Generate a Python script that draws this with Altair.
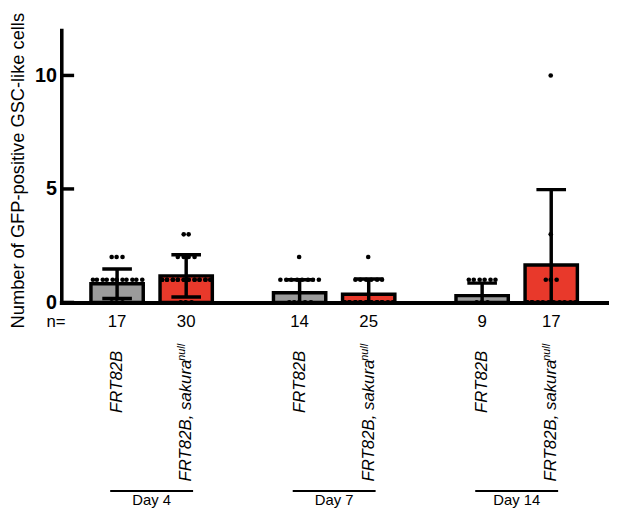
import altair as alt
import pandas as pd

# ---------------- data ----------------
days = ["Day 4", "Day 7", "Day 14"]
genotypes = ["FRT82B", "FRT82B, sakura"]
superscript = "null"

bar_day = ["Day 4", "Day 4", "Day 7", "Day 7", "Day 14", "Day 14"]
bar_geno = ["FRT82B", "FRT82B, sakura"] * 3
bar_mean = [0.82, 1.17, 0.43, 0.36, 0.30, 1.65]
bar_err = [0.65, 0.93, 0.57, 0.67, 0.55, 3.32]
n_values = [17, 30, 14, 25, 9, 17]

# individual points: levels and how many animals sit at each level
dot_levels = [[2, 1, 0], [3, 2, 1, 0], [2, 1, 0], [2, 1, 0], [1, 0], [10, 3, 1, 0]]
dot_counts = [[3, 11, 3], [2, 4, 21, 3], [1, 8, 5], [1, 6, 18], [6, 3], [1, 1, 3, 12]]

y_ticks = [0, 5, 10]
y_title = "Number of GFP-positive GSC-like cells"

# ---------------- tables ----------------
bars = pd.DataFrame({"day": bar_day, "geno": bar_geno, "mean": bar_mean,
                     "err": bar_err, "n": n_values})
bars["lo"] = bars["mean"] - bars["err"]
bars["hi"] = bars["mean"] + bars["err"]

# beeswarm-like horizontal spreading of the dots (layout only)
BAND = 140
MAX_PER_ROW = 10
SPACING = 5.5
centers = {genotypes[0]: 35, genotypes[1]: 105}
rows = []
for i in range(len(bar_day)):
    for lev, cnt in zip(dot_levels[i], dot_counts[i]):
        width_n = min(cnt, MAX_PER_ROW) if cnt <= 11 else MAX_PER_ROW
        if cnt == 11:
            width_n = 11
        for k in range(cnt):
            pos = k % width_n
            off = (pos - (width_n - 1) / 2) * (SPACING if width_n <= 10 else 5.0)
            slot = int(round(centers[bar_geno[i]] - 0.5 + off))
            rows.append({"day": bar_day[i], "slot": slot, "value": lev})
dots = pd.DataFrame(rows)

ticks_df = pd.DataFrame({"t": y_ticks})
days_df = pd.DataFrame({"day": days})
grey_df = bars[bars["geno"] == genotypes[0]].copy()
red_df = bars[bars["geno"] == genotypes[1]].copy()
red_df["sup"] = superscript

FONT = "Liberation Sans"

xscale = alt.Scale(domain=days, paddingInner=0.243, paddingOuter=0.1165)
xaxis = alt.Axis(labels=False, ticks=False, title=None, domain=True,
                 domainColor="black", domainWidth=4, domainCap="square",
                 grid=False, zindex=1)
x_enc = alt.X("day:N", sort=days, scale=xscale, axis=xaxis)
xo_geno = alt.XOffset("geno:N", sort=genotypes,
                      scale=alt.Scale(type="band", domain=genotypes,
                                      paddingInner=0.243, paddingOuter=0.1215))
yscale = alt.Scale(domain=[0, 12], nice=False, zero=True)
yaxis = alt.Axis(values=y_ticks, title=y_title, ticks=False, tickSize=0,
                 domain=True, domainColor="black", domainWidth=3.6,
                 domainCap="square", grid=False, labelFont=FONT,
                 labelFontSize=20, labelFontWeight="bold", labelColor="black",
                 labelPadding=5, titleFont=FONT, titleFontSize=18.5,
                 titleFontWeight="normal", titleColor="black", titlePadding=7,
                 titleY=142)

color = alt.Color("geno:N", scale=alt.Scale(domain=genotypes,
                                            range=["#9b9b9b", "#e8392b"]),
                  legend=None)

bar_layer = alt.Chart(bars).mark_bar(stroke="black", strokeWidth=3.5).encode(
    x=x_enc, xOffset=xo_geno,
    y=alt.Y("mean:Q", scale=yscale, axis=yaxis), fill=color)

dot_layer = alt.Chart(dots).mark_circle(size=22, color="black", opacity=1).encode(
    x=x_enc,
    xOffset=alt.XOffset("slot:O", scale=alt.Scale(type="band",
                                                  domain=list(range(BAND)),
                                                  paddingInner=0, paddingOuter=0)),
    y=alt.Y("value:Q", scale=yscale, axis=yaxis))

err_layer = alt.Chart(bars).mark_rule(color="black", strokeWidth=3.5, clip=True).encode(
    x=x_enc, xOffset=xo_geno,
    y=alt.Y("lo:Q", scale=yscale, axis=yaxis), y2="hi:Q")

cap_hi = alt.Chart(bars).mark_tick(color="black", size=30, thickness=3.5,
                                   clip=True, opacity=1).encode(
    x=x_enc, xOffset=xo_geno, y=alt.Y("hi:Q", scale=yscale, axis=yaxis))
cap_lo = alt.Chart(bars).mark_tick(color="black", size=30, thickness=3.5,
                                   clip=True, opacity=1).encode(
    x=x_enc, xOffset=xo_geno, y=alt.Y("lo:Q", scale=yscale, axis=yaxis))

tick_layer = alt.Chart(ticks_df).mark_rule(color="black", strokeWidth=3.5).encode(
    y=alt.Y("t:Q", scale=yscale, axis=yaxis), x=alt.value(0), x2=alt.value(13))

n_eq = alt.Chart(days_df.head(1)).mark_text(
    font=FONT, fontSize=17, color="black", align="left", baseline="middle",
    text="n=").encode(x=alt.value(-15), y=alt.value(296))

n_layer = alt.Chart(bars).mark_text(
    font=FONT, fontSize=17, color="black", baseline="middle").encode(
    x=x_enc, xOffset=xo_geno, y=alt.value(296), text="n:Q")

geno_grey = alt.Chart(grey_df).mark_text(
    font=FONT, fontSize=17, fontStyle="italic", color="black", angle=270,
    align="right", baseline="middle").encode(
    x=x_enc, xOffset=xo_geno, y=alt.value(325), text="geno:N")

geno_red = alt.Chart(red_df).mark_text(
    font=FONT, fontSize=17, fontStyle="italic", color="black", angle=270,
    align="right", baseline="middle").encode(
    x=x_enc, xOffset=xo_geno, y=alt.value(334), text="geno:N")

sup_layer = alt.Chart(red_df).mark_text(
    font=FONT, fontSize=11, fontStyle="italic", color="black", angle=270,
    align="right", baseline="middle", dy=-4).encode(
    x=x_enc, xOffset=xo_geno, y=alt.value(318), text="sup:N")

line_layer = alt.Chart(days_df).mark_bar(color="black",
                                         width=alt.RelativeBandSize(0.6)).encode(
    x=x_enc, y=alt.value(466), y2=alt.value(468))

day_layer = alt.Chart(days_df).mark_text(
    font=FONT, fontSize=15, color="black", baseline="alphabetic").encode(
    x=x_enc, y=alt.value(481), text="day:N")

chart = alt.layer(
    bar_layer, dot_layer, err_layer, cap_hi, cap_lo, tick_layer,
    n_eq, n_layer, geno_grey, geno_red, sup_layer, line_layer, day_layer
).resolve_scale(xOffset="independent").properties(
    width=553, height=276,
    autosize=alt.AutoSizeParams(type="none"),
    padding={"left": 54, "top": 19, "right": 2, "bottom": 207},
    background="white",
).configure_view(stroke=None)

chart.save("out.html", embed_options={"renderer": "svg", "actions": False})
